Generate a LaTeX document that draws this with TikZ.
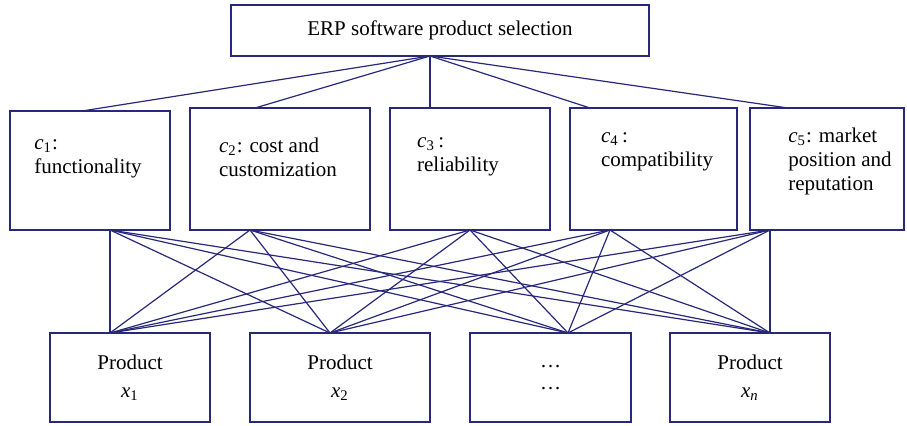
\documentclass[tikz,border=0pt]{standalone}
\usepackage{fontspec}
\setmainfont{Liberation Serif}
\definecolor{boxnavy}{RGB}{40,40,122}
\newcommand{\crit}[1]{\textit{c}\textsubscript{#1}}
\newcommand{\altx}[1]{\textit{x}\textsubscript{#1}}
\tikzset{
  critbox/.style={draw=boxnavy, inner sep=0pt, minimum height=61pt},
  prodbox/.style={draw=boxnavy, inner sep=0pt, align=center, minimum width=80pt, minimum height=44.5pt},
  link/.style={draw=boxnavy}
}
\begin{document}
\begin{tikzpicture}[x=0.5pt, y=-0.5pt, line width=0.6pt, font=\fontsize{10.5}{12}\selectfont]
  \useasboundingbox (0,0) rectangle (907,426);
  % goal and criteria
  \node (goal) [draw=boxnavy, minimum width=209pt, minimum height=25.5pt] at (440,30.5) {ERP software product selection};
  \node (c1) [critbox, minimum width=80pt, minimum height=59.5pt] at (90,170.5) {};
  \node (c2) [critbox, minimum width=90pt] at (280,169) {};
  \node (c3) [critbox, minimum width=80pt] at (470,169) {};
  \node (c4) [critbox, minimum width=83.5pt] at (653.5,169) {};
  \node (c5) [critbox, minimum width=77pt] at (827,169) {};
  \begin{scope}[every node/.style={align=left}]
    \node (c1txt) at (88,159) {\crit{1}:\\functionality};
    \node (c2txt) at (278,157) {\crit{2}: cost and\\customization};
    \node (c3txt) at (458,157) {\crit{3}\,:\\reliability};
    \node (c4txt) at (657,152) {\crit{4}\,:\\compatibility};
    \node (c5txt) at (840,161) {\crit{5}: market\\position and\\reputation};
  \end{scope}
  % alternatives
  \node (x1) [prodbox] at (130,377.5) {Product\\[2pt]\altx{1}};
  \node (x2) [prodbox, minimum width=90pt] at (340,377.5) {Product\\[2pt]\altx{2}};
  \node (x3) [prodbox, minimum width=80.5pt] at (550.5,377.5) {\ldots\\[-1pt]\ldots};
  \node (x4) [prodbox] at (750,377.5) {Product\\[2pt]\altx{\textit{n}}};
  % attachment points
  \coordinate (g) at (430,56);
  \foreach \i/\x/\y in {1/82/111,2/255/108,3/430/108,4/590/108,5/788/108}
    \coordinate (c\i-top) at (\x,\y);
  \foreach \i/\x in {1/110,2/250,3/470,4/610,5/770}
    \coordinate (c\i-bot) at (\x,230);
  \foreach \i/\x in {1/110,2/330,3/568,4/770}
    \coordinate (x\i-top) at (\x,333);
  % links
  \foreach \i in {1,...,5}
    \path (g) edge[link] (c\i-top);
  \foreach \i in {1,...,5}
    \foreach \j in {1,...,4}
      \path (c\i-bot) edge[link] (x\j-top);
\end{tikzpicture}
\end{document}
